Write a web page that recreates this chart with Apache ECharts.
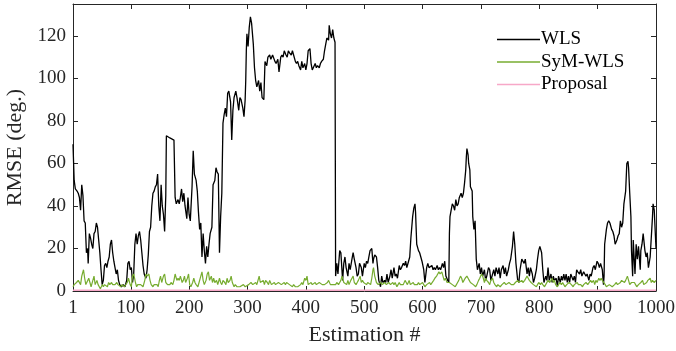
<!DOCTYPE html>
<html>
<head>
<meta charset="utf-8">
<script src="https://cdn.jsdelivr.net/npm/echarts@6/dist/echarts.min.js"></script>
<style>
  html, body { margin: 0; padding: 0; background: #fff; }
  #chart { width: 676px; height: 351px; }
</style>
</head>
<body>
<div id="chart"></div>
<script>
// tick values
const xTicks = [1, 100, 200, 300, 400, 500, 600, 700, 800, 900, 1000]
const yTicks = [0, 20, 40, 60, 80, 100, 120]

// RMSE, [estimation #, deg.]
const wlsPoints = [
  [1,69],[3,52],[5,48],[8,47],[10,46],[12,44],[14,38],[16,50],[18,45],[20,33],[22,32],[24,18],[26,20],[27,13],[29,27],[31,25],[33,22],[35,20],[37,27],[39,28],
  [41,32],[43,30],[45,24],[47,18],[49,10],[51,3],[53,5],[55,12],[57,13],[59,11],[61,14],[63,16],[65,22],[67,24],[69,18],[71,14],[73,11],[75,8],[77,10],[79,5],
  [81,3],[84,2],[87,3],[90,2],[93,5],[95,13],[97,14],[99,10],[101,11],[103,4],[105,8],[107,22],[109,27],[111,22],[113,26],[115,28],[117,24],[119,18],[121,12],[123,8],
  [126,6],[128,10],[130,17],[132,28],[134,30],[136,40],[138,46],[140,47],[142,49],[144,50],[146,55],[148,40],[150,33],[152,50],[154,40],[156,36],[158,28],[160,45],[161,73],[164,73],
  [167,72],[170,72],[174,71],[176,44],[178,41],[181,43],[183,41],[185,44],[187,48],[189,42],[191,46],[193,40],[196,34],[198,44],[200,36],[202,33],[205,49],[207,66],[209,55],[212,52],
  [214,47],[216,37],[218,29],[220,32],[221,24],[222,16],[224,27],[226,19],[228,13],[230,21],[232,16],[234,22],[236,27],[239,30],[241,50],[244,52],[246,58],[248,56],[250,55],[252,18],
  [254,35],[256,46],[258,79],[260,83],[262,86],[264,82],[266,93],[268,94],[271,89],[273,71],[275,85],[277,91],[280,94],[282,91],[285,85],[287,91],[289,90],[292,86],[294,82],[296,90],
  [297,99],[298,113],[299,121],[301,115],[303,124],[305,129],[307,126],[310,116],[312,105],[314,99],[316,96],[319,99],[321,94],[323,98],[325,91],[328,90],[330,108],[333,106],
  [335,110],[338,111],[340,109],[343,111],[345,111],[347,108],[349,107],[352,109],[354,103],[357,110],[359,111],[361,110],[363,113],[366,111],[368,110],[370,113],[372,112],[375,111],[377,113],[379,111],
  [382,108],[384,107],[386,108],[388,106],[391,104],[393,108],[395,105],[398,107],[400,104],[402,107],[404,113],[407,114],[409,107],[411,104],[413,104],[416,107],[418,105],[420,106],[423,105],[425,107],
  [427,108],[430,109],[432,113],[434,116],[436,119],[439,118],[440,125],[442,121],[444,119],[446,123],[448,119],[450,117],[451,7],[453,13],[455,8],[458,19],[460,18],[463,5],[465,13],[467,16],
  [469,11],[472,7],[474,13],[476,10],[479,15],[481,18],[483,15],[486,11],[488,7],[490,8],[492,13],[495,11],[497,7],[500,13],
  [502,11],[504,14],[506,13],[508,16],[510,19],[513,20],[515,13],[516,15],[518,17],[521,16],[523,11],[525,5],[528,2],[530,7],[532,4],[535,5],[537,4],[539,8],[541,4],[544,7],
  [546,10],[548,6],[551,11],[553,7],[555,8],[557,6],[560,12],[562,10],[564,11],[567,13],[569,12],[571,14],[573,11],[576,14],[578,16],[580,25],[583,35],[585,39],[587,41],[588,37],
  [590,22],[593,19],[595,18],[597,16],[599,14],[602,10],[604,4],[607,11],[609,13],[611,11],[613,11],[616,12],[618,10],[620,11],[622,10],[625,12],[627,10],[629,11],[631,10],[634,13],
  [636,11],[638,14],[640,7],[643,5],[645,4],[646,27],[647,35],[649,38],[651,41],[653,40],[655,38],[657,43],[659,40],[661,41],[663,44],[666,46],[668,44],
  [670,46],[672,51],[674,57],[675,63],[676,67],[678,64],[679,60],[681,57],[682,49],[685,47],[686,35],[688,29],[690,33],[692,15],[694,10],[697,13],[699,8],[701,11],[703,7],[706,10],
  [708,5],[710,7],[713,11],[715,10],[717,5],[719,5],[722,10],[724,7],[726,11],[729,8],[731,11],[733,6],[735,10],[738,12],[740,8],[742,11],[744,7],[747,10],[749,13],[751,15],
  [754,21],[756,28],[758,22],[760,13],[763,5],[765,4],[767,10],[770,15],[772,15],[774,13],[776,15],[779,8],[781,11],[783,7],[785,11],[788,8],[790,4],[792,6],[795,10],[797,15],
  [799,19],[801,21],[804,18],[806,10],[808,4],[811,7],[813,5],[815,11],[817,5],[820,8],[822,4],[824,7],[826,5],[829,6],[831,2],[833,7],[836,4],
  [838,7],[840,5],[842,8],[844,5],[846,8],[848,4],[850,7],[852,4],[854,8],[856,8],[858,5],[860,7],[862,4],[864,10],[866,9],[869,8],[871,10],[873,7],[876,9],[878,8],
  [880,7],[882,8],[885,5],[887,8],[889,7],[892,11],[894,12],[896,10],[899,14],[901,13],[903,11],[905,13],[908,10],[910,3],[911,7],[912,22],[915,29],[917,32],[919,33],[921,32],
  [924,29],[926,28],[928,26],[930,22],[933,24],[935,26],[937,27],[939,33],[941,30],[943,32],[945,41],[948,47],[950,60],[952,61],[953,58],[955,46],[957,35],[958,19],[960,7],[961,24],
  [964,8],[966,22],[968,15],[970,21],[973,10],[974,19],[976,22],[978,27],[981,19],[983,16],[985,18],[987,11],[990,16],[992,16],[994,35],[995,41],[997,38],[1000,20]
]

const symPoints = [
  [1,2],[3,3],[5,3],[7,4],[10,5],[12,5],[14,3],[16,7],[19,10],[21,6],[23,3],[25,3],[28,6],[30,4],[32,2],[35,5],[37,7],[39,3],[42,5],[44,3],
  [46,2],[48,1],[51,3],[53,2],[55,3],[57,3],[60,2],[62,4],[64,3],[67,4],[69,3],[71,3],[73,3],[76,4],[78,3],[80,3],[83,2],[85,3],[87,3],[89,2],
  [92,2],[94,4],[96,6],[99,3],[101,2],[103,7],[105,8],[108,4],[110,2],[112,3],[115,3],[117,3],[119,3],[121,2],[124,5],[126,8],[128,7],[131,8],[133,5],[135,3],
  [138,2],[140,3],[142,3],[145,3],[147,2],[149,5],[151,7],[153,4],[156,7],[158,8],[160,4],[163,3],[165,3],
  [167,3],[169,4],[172,3],[174,5],[176,8],[179,5],[181,6],[183,5],[185,7],[188,4],[190,5],[192,7],[194,4],[197,6],[199,8],[201,3],[203,2],[206,4],[208,6],[210,4],
  [212,3],[215,2],[217,4],[220,7],[222,9],[224,5],[226,3],[229,5],[231,8],[233,9],[235,5],[238,7],[240,4],[242,6],[244,4],[247,5],[249,3],[252,6],[254,4],[256,3],
  [258,5],[261,4],[263,3],[265,6],[267,4],[270,5],[272,7],[274,4],[277,2],[279,3],[282,2],[284,2],[287,2],[290,2],[293,3],[296,2],[299,2],[302,3],[304,3],[306,4],
  [309,3],[311,3],[314,4],[316,3],[318,3],[320,7],[322,4],[325,4],[327,5],[329,3],[331,5],[334,4],
  [336,3],[338,5],[341,3],[343,3],[346,4],[348,3],[351,3],[353,4],[356,4],[358,3],[360,3],[363,4],[365,3],[367,4],[369,4],[372,3],[374,3],[377,2],[379,3],[382,2],
  [384,2],[386,2],[388,2],[391,3],[393,4],[395,3],[398,6],[400,5],[402,7],[404,3],[407,3],[409,4],[411,3],[414,3],[416,4],[418,3],[421,3],[423,4],[425,4],[428,3],
  [430,3],[432,3],[435,3],[437,4],[439,5],[442,3],[444,3],[446,3],[449,3],[451,3],[453,4],[456,3],[458,4],[460,5],[462,7],[465,4],[467,4],[470,3],[472,5],[474,3],
  [477,5],[479,6],[481,7],[483,4],[486,3],[488,4],[490,5],[493,7],[495,4],[497,5],[499,4],
  [502,4],[504,3],[506,4],[508,4],[511,3],[513,6],[515,10],[516,11],[518,7],[521,4],[524,3],[526,3],[528,4],[531,3],[533,3],[535,4],[538,3],[540,3],[542,4],[545,3],
  [547,3],[549,4],[551,3],[553,4],[556,2],[558,3],[560,4],[562,3],[565,3],[567,3],[570,5],[572,4],[574,3],[577,5],[579,3],[581,3],[584,4],[586,3],[588,3],[591,3],
  [593,4],[595,3],[597,3],[600,4],[602,3],[604,2],[607,3],[609,3],[612,4],[614,3],[617,3],[619,5],[621,6],[624,7],[626,8],[628,9],[630,8],[633,9],[635,7],[637,5],
  [639,6],[642,4],[644,4],[646,4],[649,4],[651,3],[653,3],[656,2],[658,3],[660,4],[662,5],[665,7],[667,6],[669,4],
  [671,5],[673,6],[676,7],[678,6],[680,5],[682,4],[685,4],[687,3],[689,3],[691,2],[693,3],[696,5],[698,6],[701,8],[703,7],[706,4],[708,6],[710,5],[713,4],[715,3],
  [717,5],[720,6],[722,4],[724,3],[727,2],[729,3],[731,3],[733,2],[736,3],[738,3],[740,4],[743,3],[745,3],[748,4],[750,4],[752,3],[754,3],[756,3],[759,4],[761,4],
  [763,5],[765,4],[767,4],[770,5],[772,4],[775,5],[777,6],[779,7],[781,6],[783,5],[786,4],[788,4],[790,3],[793,3],[795,2],[797,3],[799,4],[802,3],[804,4],[806,3],
  [809,2],[811,3],[813,3],[815,5],[818,4],[820,4],[822,6],[824,4],[826,5],[828,3],[831,2],[833,3],[835,4],
  [838,3],[840,4],[842,3],[844,2],[847,3],[849,3],[851,4],[853,4],[855,3],[858,2],[860,3],[862,3],[865,4],[867,3],[869,3],[871,3],[874,2],[876,3],[878,3],[880,4],
  [883,3],[885,3],[888,5],[890,4],[893,5],[895,3],[897,5],[899,4],[902,6],[904,5],[906,6],[908,5],[911,5],[913,3],[915,2],[918,2],[920,3],[922,3],[925,2],[927,2],
  [929,3],[932,4],[934,3],[936,3],[939,4],[941,5],[943,5],[946,4],[948,5],[951,7],[953,5],[955,3],[958,4],[960,4],[963,4],[965,3],[967,2],[970,3],[972,3],[974,4],
  [977,5],[979,3],[981,3],[984,4],[986,5],[988,5],[990,6],[992,4],[994,5],[997,4],[1000,5]
]

const proposalPoints = [
  [1,0.4],[100,0.4],[200,0.4],[300,0.4],[400,0.4],[500,0.4],[600,0.4],[700,0.4],[800,0.4],[900,0.4],[1000,0.4]
]

const serif = 'Liberation Serif'
const axisColor = '#262626'

const chart = echarts.init(document.getElementById('chart'), null, { renderer: 'canvas' })

const boxAxis = {
  axisLine: { show: true, onZero: false, lineStyle: { color: axisColor, width: 1 } },
  axisTick: { show: true, inside: true, length: 5, lineStyle: { color: axisColor } },
  splitLine: { show: false }
}

const tickLabel = {
  fontFamily: serif,
  fontSize: 19,
  color: '#262626',
  formatter: v => String(v)
}

chart.setOption({
  animation: false,
  backgroundColor: '#fff',
  textStyle: { fontFamily: serif },
  grid: {
    left: 73,
    right: 20,
    top: 4,
    bottom: 60,
    outerBoundsMode: 'none',
    containLabel: false
  },
  legend: {
    orient: 'vertical',
    left: 497,
    top: 30,
    padding: 0,
    icon: 'rect',
    itemWidth: 43,
    itemHeight: 1.5,
    itemGap: 3.5,
    textStyle: { fontFamily: serif, fontSize: 19, color: '#000', padding: [0, 0, 0, -4] },
    data: ['WLS', 'SyM-WLS', 'Proposal']
  },
  xAxis: [{
    type: 'value',
    min: 1,
    max: 1000,
    position: 'bottom',
    name: 'Estimation #',
    nameLocation: 'middle',
    nameGap: 33,
    nameTextStyle: { fontFamily: serif, fontSize: 22, color: '#262626' },
    ...boxAxis,
    axisTick: { ...boxAxis.axisTick, customValues: xTicks },
    axisLabel: { ...tickLabel, customValues: xTicks, margin: 8 }
  }, {
    type: 'value',
    min: 1,
    max: 1000,
    position: 'top',
    ...boxAxis,
    axisTick: { ...boxAxis.axisTick, customValues: xTicks },
    axisLabel: { show: false }
  }],
  yAxis: [{
    type: 'value',
    min: 0,
    max: 135,
    position: 'left',
    name: 'RMSE (deg.)',
    nameLocation: 'middle',
    nameGap: 45,
    nameTextStyle: { fontFamily: serif, fontSize: 22, color: '#262626' },
    ...boxAxis,
    axisTick: { ...boxAxis.axisTick, customValues: yTicks },
    axisLabel: { ...tickLabel, customValues: yTicks, margin: 7 }
  }, {
    type: 'value',
    min: 0,
    max: 135,
    position: 'right',
    ...boxAxis,
    axisTick: { ...boxAxis.axisTick, customValues: yTicks },
    axisLabel: { show: false }
  }],
  series: [{
    name: 'WLS',
    type: 'line',
    data: wlsPoints,
    symbol: 'none',
    color: '#000000',
    lineStyle: { color: '#000000', width: 1.3 },
    z: 2
  }, {
    name: 'SyM-WLS',
    type: 'line',
    data: symPoints,
    symbol: 'none',
    color: '#77ac30',
    lineStyle: { color: '#77ac30', width: 1.2 },
    z: 3
  }, {
    name: 'Proposal',
    type: 'line',
    data: proposalPoints,
    symbol: 'none',
    color: '#f7a8c8',
    lineStyle: { color: '#f7a8c8', width: 1.5 },
    z: 4
  }]
})
</script>
</body>
</html>
